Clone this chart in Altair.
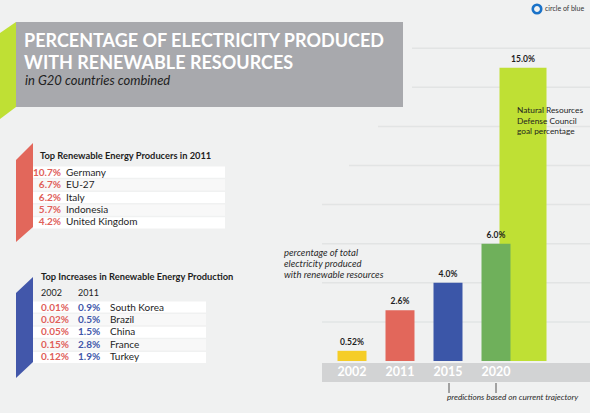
import altair as alt
import pandas as pd

# ---- chart data -------------------------------------------------------
years = ["2002", "2011", "2015", "2020"]
shares = [0.52, 2.6, 4.0, 6.0]
bar_colors = ["#f5cd27", "#e2675b", "#3b56a8", "#6fb05b"]
goal_year = "2020"
goal_share = 15.0
grid_steps = [2, 4, 6, 8, 10, 12, 14, 16]

producers = ["Germany", "EU-27", "Italy", "Indonesia", "United Kingdom"]
producer_share = [10.7, 6.7, 6.2, 5.7, 4.2]

gainers = ["South Korea", "Brazil", "China", "France", "Turkey"]
gain_2002 = [0.01, 0.02, 0.05, 0.15, 0.12]
gain_2011 = [0.9, 0.5, 1.5, 2.8, 1.9]

# ---- styling ----------------------------------------------------------
W, H = 590, 413
BG = "#f0f1f1"
FONT = "Lato"
RED = "#e0605a"
BLUE = "#4257aa"
LIME = "#bfe034"
DARK = "#1e1e1e"

# value scale for the bars: 0 % sits on the year band
YS = alt.Scale(domain=[-2.66, 18.465], range=[H, 0], zero=False, nice=False)
XS = alt.Scale(domain=years, range=[328, 520], paddingInner=0.396, paddingOuter=0.198)
PX = alt.Scale(domain=[0, W], range=[0, W], zero=False, nice=False)
PY = alt.Scale(domain=[0, H], range=[0, H], zero=False, nice=False)

one = pd.DataFrame({"k": [0]})


def box(x, x2, y, y2, color):
    return alt.Chart(one).mark_rect(color=color).encode(
        x=alt.value(x), x2=alt.value(x2), y=alt.value(y), y2=alt.value(y2)
    )


def words(text, x, y, size, color=DARK, weight="normal", style="normal",
          align="left", baseline="alphabetic", line_height=None):
    kw = dict(text=text, fontSize=size, color=color, fontWeight=weight,
              fontStyle=style, align=align, baseline=baseline, font=FONT)
    if line_height is not None:
        kw["lineHeight"] = line_height
    return alt.Chart(one).mark_text(**kw).encode(x=alt.value(x), y=alt.value(y))


def slanted(x0, x1, top0, top1, bot0, bot1, color):
    # a folded ribbon: vertical sides, sloped top and bottom edges
    df = pd.DataFrame({"px": [x0, x1], "top": [top0, top1], "bot": [bot0, bot1]})
    return alt.Chart(df).mark_area(color=color).encode(
        x=alt.X("px:Q", scale=PX, axis=None),
        y=alt.Y("top:Q", scale=PY, axis=None),
        y2="bot:Q",
    )


layers = []

# ---- title block -------------------------------------------------------
layers.append(box(16, 403, 22, 107, "#a8a9ad"))
layers.append(slanted(0, 16, 33, 22, 119, 107, LIME))
layers.append(words("PERCENTAGE OF ELECTRICITY PRODUCED", 24, 47, 18, "white", "bold"))
layers.append(words("WITH RENEWABLE RESOURCES", 24, 69, 18, "white", "bold"))
layers.append(words("in G20 countries combined", 25, 85, 13, "#222222", style="italic"))

# ---- logo ---------------------------------------------------------------
layers.append(alt.Chart(one).mark_point(shape="circle", filled=False, size=72,
                                        strokeWidth=2.6, color="#1a72c8", opacity=1)
              .encode(x=alt.value(537), y=alt.value(9)))
layers.append(words("circle of blue", 545, 9, 7, "#333333", baseline="middle"))

# ---- gridlines (stepped left edge) -------------------------------------
grid_df = pd.DataFrame({"g": grid_steps})
for lo, hi, x0 in [(0, 8, 322), (10, 10, 349), (12, 12, 378), (14, 16, 412)]:
    layers.append(
        alt.Chart(grid_df).transform_filter(
            (alt.datum.g >= lo) & (alt.datum.g <= hi)
        ).mark_rule(color="#e2e4e4", strokeWidth=1.5).encode(
            y=alt.Y("g:Q", scale=YS, axis=None),
            x=alt.value(x0), x2=alt.value(W),
        )
    )

# ---- year band ----------------------------------------------------------
layers.append(box(322, W, 363, 382, "#d2d3d4"))

bars_df = pd.DataFrame({
    "year": years,
    "share": shares,
    "color": bar_colors,
    "label": [f"{v}%" for v in shares],
})
goal_df = pd.DataFrame({"year": [goal_year], "share": [goal_share],
                        "label": [f"{goal_share}%"]})

# goal bar sits behind the 2020 bar, shifted to the right
layers.append(
    alt.Chart(goal_df).mark_bar(color=LIME, width=47, xOffset=27).encode(
        x=alt.X("year:N", scale=XS, axis=None),
        y=alt.Y("share:Q", scale=YS, axis=None),
        y2=alt.datum(0),
    )
)
layers.append(
    alt.Chart(bars_df).mark_bar().encode(
        x=alt.X("year:N", scale=XS, axis=None),
        y=alt.Y("share:Q", scale=YS, axis=None),
        y2=alt.datum(0),
        color=alt.Color("color:N", scale=None),
    )
)
layers.append(
    alt.Chart(bars_df).mark_text(fontSize=8.5, fontWeight="bold", color=DARK, font=FONT,
                                 baseline="bottom", dy=-4).encode(
        x=alt.X("year:N", scale=XS, axis=None),
        y=alt.Y("share:Q", scale=YS, axis=None),
        text="label:N",
    )
)
layers.append(
    alt.Chart(goal_df).mark_text(fontSize=8.5, fontWeight="bold", color=DARK, font=FONT,
                                 baseline="bottom", dy=-4, xOffset=27).encode(
        x=alt.X("year:N", scale=XS, axis=None),
        y=alt.Y("share:Q", scale=YS, axis=None),
        text="label:N",
    )
)
layers.append(
    alt.Chart(bars_df).mark_text(fontSize=12.5, fontWeight="bold", color="white",
                                 font=FONT, baseline="middle").encode(
        x=alt.X("year:N", scale=XS, axis=None),
        y=alt.value(372),
        text="year:N",
    )
)

# ---- chart annotations -------------------------------------------------
layers.append(words(["percentage of total", "electricity produced",
                     "with renewable resources"], 284, 253, 9.5, "#2a2a2a",
                    style="italic", baseline="middle", line_height=11))
layers.append(words(["Natural Resources", "Defense Council", "goal percentage"],
                    517, 111, 8.3, DARK, baseline="middle", line_height=10.5))
layers.append(box(448.5, 449.5, 383, 393, "#555555"))
layers.append(box(495.5, 496.5, 383, 393, "#555555"))
layers.append(words("predictions based on current trajectory", 447, 398, 8.2,
                    "#2a2a2a", style="italic", baseline="middle"))

# ---- table: top producers ---------------------------------------------
RS1 = alt.Scale(domain=producers, range=[166.5, 228.5], paddingInner=0.12, paddingOuter=0)
layers.append(slanted(16, 33, 160, 143, 242, 227, "#e2675b"))
layers.append(words("Top Renewable Energy Producers in 2011", 40, 159, 9.3, DARK, "bold"))
prod_df = pd.DataFrame({"name": producers, "share": producer_share,
                        "shade": ["a", "b", "a", "b", "a"]})
layers.append(
    alt.Chart(prod_df).mark_rect().encode(
        y=alt.Y("name:N", scale=RS1, axis=None, sort=producers),
        x=alt.value(33), x2=alt.value(225),
        color=alt.Color("shade:N", scale=alt.Scale(domain=["a", "b"],
                                                   range=["#ffffff", "#f8f8f8"]),
                        legend=None),
    )
)
layers.append(
    alt.Chart(prod_df).transform_calculate(
        pct="format(datum.share, '.1f') + '%'"
    ).mark_text(align="right", baseline="middle", fontSize=10, fontWeight="bold",
                color=RED, font=FONT).encode(
        y=alt.Y("name:N", scale=RS1, axis=None, sort=producers),
        x=alt.value(61),
        text="pct:N",
    )
)
layers.append(
    alt.Chart(prod_df).mark_text(align="left", baseline="middle", fontSize=10,
                                 color=DARK, font=FONT).encode(
        y=alt.Y("name:N", scale=RS1, axis=None, sort=producers),
        x=alt.value(66),
        text="name:N",
    )
)

# ---- table: top increases ---------------------------------------------
RS2 = alt.Scale(domain=gainers, range=[301.5, 363], paddingInner=0.12, paddingOuter=0)
layers.append(slanted(16, 33, 293, 277, 378, 362, BLUE))
layers.append(words("Top Increases in Renewable Energy Production", 41, 280, 9.3, DARK, "bold"))
layers.append(words("2002", 41, 296, 9, DARK))
layers.append(words("2011", 78, 296, 9, DARK))
gain_df = pd.DataFrame({"name": gainers, "v02": gain_2002, "v11": gain_2011,
                        "shade": ["a", "b", "a", "b", "a"]})
layers.append(
    alt.Chart(gain_df).mark_rect().encode(
        y=alt.Y("name:N", scale=RS2, axis=None, sort=gainers),
        x=alt.value(33), x2=alt.value(206),
        color=alt.Color("shade:N", scale=alt.Scale(domain=["a", "b"],
                                                   range=["#ffffff", "#f8f8f8"]),
                        legend=None),
    )
)
gain_text = alt.Chart(gain_df).transform_calculate(
    p02="format(datum.v02, '.2f') + '%'",
    p11="format(datum.v11, '.1f') + '%'",
)
layers.append(
    gain_text.mark_text(align="left", baseline="middle", fontSize=10, fontWeight="bold",
                        color=RED, font=FONT).encode(
        y=alt.Y("name:N", scale=RS2, axis=None, sort=gainers),
        x=alt.value(41), text="p02:N",
    )
)
layers.append(
    gain_text.mark_text(align="left", baseline="middle", fontSize=10, fontWeight="bold",
                        color=BLUE, font=FONT).encode(
        y=alt.Y("name:N", scale=RS2, axis=None, sort=gainers),
        x=alt.value(78), text="p11:N",
    )
)
layers.append(
    alt.Chart(gain_df).mark_text(align="left", baseline="middle", fontSize=10,
                                 color=DARK, font=FONT).encode(
        y=alt.Y("name:N", scale=RS2, axis=None, sort=gainers),
        x=alt.value(110), text="name:N",
    )
)

chart = (
    alt.layer(*layers)
    .resolve_scale(x="independent", y="independent", color="independent")
    .properties(width=W, height=H, padding=0, autosize="none", background=BG)
    .configure_view(stroke=None)
)

chart.save("out.html", embed_options={"renderer": "svg", "actions": False})
